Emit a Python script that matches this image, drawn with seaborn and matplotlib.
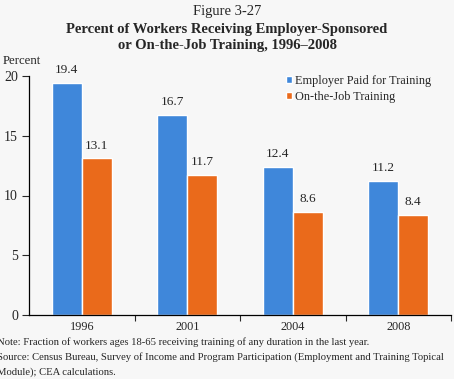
import pandas as pd
import matplotlib
matplotlib.use("Agg")
import matplotlib.pyplot as plt
import seaborn as sns

# datos
years = ["1996", "2001", "2004", "2008"]
employer_paid = [19.4, 16.7, 12.4, 11.2]
on_the_job = [13.1, 11.7, 8.6, 8.4]
series_names = ["Employer Paid for Training", "On-the-Job Training"]

data_df = pd.DataFrame({
    "year": years * 2,
    "value": employer_paid + on_the_job,
    "serie": [series_names[0]] * len(years) + [series_names[1]] * len(years),
})

sns.set_style("white")
plt.rcParams["font.family"] = ["Liberation Serif", "DejaVu Serif"]

fondo = "#F7F7F7"
fig = plt.figure(figsize=(4.54, 3.79), dpi=100, facecolor=fondo)
ax = fig.add_axes([29 / 454, 1 - 315 / 379, 422 / 454, 239 / 379])
ax.set_facecolor(fondo)

colores = ["#3F87DA", "#EA6A1B"]
sns.barplot(data=data_df, x="year", y="value", hue="serie", palette=colores,
            width=0.57, saturation=1, ax=ax, legend=True)

# etiquetas de valores
for cont in ax.containers:
    ax.bar_label(cont, fmt="%.1f", padding=5, fontsize=9.5)

ax.set_ylim(0, 20)
ax.set_xlim(-0.5, 3.5)
ax.set_yticks([0, 5, 10, 15, 20])
ax.tick_params(axis="y", length=5, width=0.8, direction="out", labelsize=10, left=True, pad=3)
ax.tick_params(axis="x", which="major", length=0, labelsize=8.8, pad=4)
ax.set_xticks([0.5, 1.5, 2.5, 3.5], minor=True)
ax.tick_params(axis="x", which="minor", length=4, width=0.8, direction="out", bottom=True)
ax.set_xlabel("")
ax.set_ylabel("")
for s in ["top", "right"]:
    ax.spines[s].set_visible(False)
for s in ["left", "bottom"]:
    ax.spines[s].set_color("black")
    ax.spines[s].set_linewidth(0.9)

leg = ax.legend(loc="upper left", bbox_to_anchor=(0.595, 1.03), frameon=False,
                fontsize=8.8, handlelength=0.5, handleheight=0.5, handletextpad=0.25,
                labelspacing=0.3, borderpad=0)

fig.text(0.5, 1 - 12 / 379, "Figure 3-27", ha="center", va="center", fontsize=10.5)
fig.text(0.5, 1 - 29 / 379, "Percent of Workers Receiving Employer-Sponsored",
         ha="center", va="center", fontsize=10.5, fontweight="bold")
fig.text(0.5, 1 - 45 / 379, "or On-the-Job Training, 1996\u20132008",
         ha="center", va="center", fontsize=10.5, fontweight="bold")
fig.text(3 / 454, 1 - 61 / 379, "Percent", ha="left", va="center", fontsize=9.2)

fig.text(-3 / 454, 1 - 342 / 379,
         "Note: Fraction of workers ages 18-65 receiving training of any duration in the last year.",
         ha="left", va="center", fontsize=7.7)
fig.text(-3 / 454, 1 - 357 / 379,
         "Source: Census Bureau, Survey of Income and Program Participation (Employment and Training Topical",
         ha="left", va="center", fontsize=7.7)
fig.text(-3 / 454, 1 - 372 / 379, "Module); CEA calculations.",
         ha="left", va="center", fontsize=7.7)

plt.savefig("out.png", dpi=100, facecolor=fondo)
